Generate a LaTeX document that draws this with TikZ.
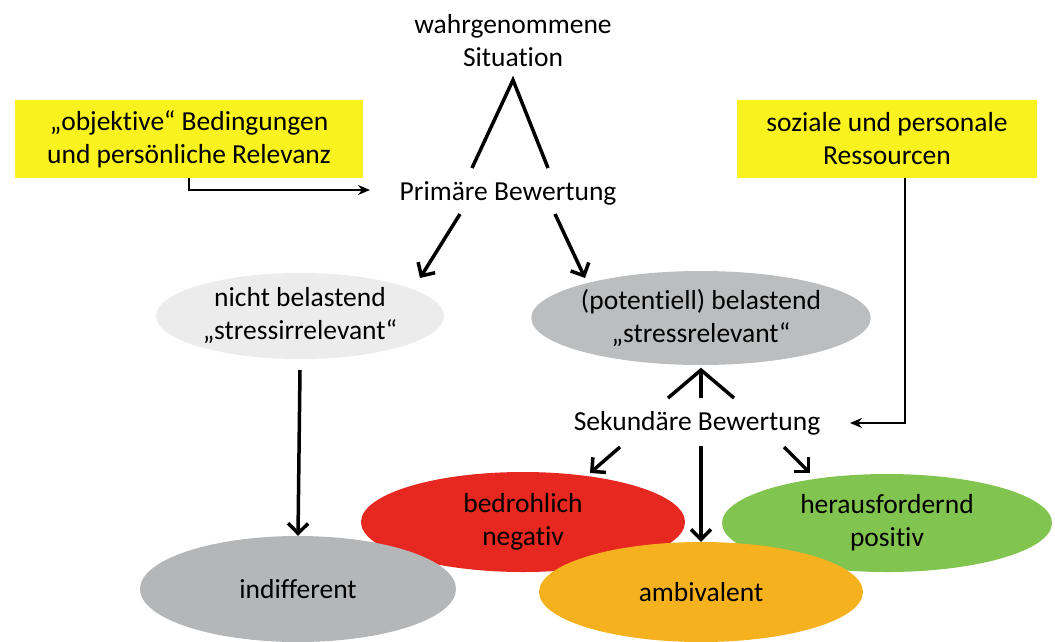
\documentclass[tikz,border=0pt]{standalone}
\usepackage{fontspec}
\setmainfont[Ligatures={NoCommon,NoRare},Contextuals={NoAlternate}]{Carlito}
\usetikzlibrary{shapes.geometric,arrows.meta}
\definecolor{boxyellow}{RGB}{250,242,30}
\definecolor{lightgray1}{RGB}{236,236,236}
\definecolor{midgray}{RGB}{188,189,190}
\definecolor{indgray}{RGB}{180,182,184}
\definecolor{redfill}{RGB}{230,40,32}
\definecolor{greenfill}{RGB}{130,196,80}
\definecolor{orangefill}{RGB}{246,178,30}
\tikzset{
  lbl/.style={align=center, font=\fontsize{27.5}{33}\selectfont, inner sep=0pt},
  ybox/.style={lbl, fill=boxyellow, minimum width=348pt, minimum height=78pt},
  ybox2/.style={lbl, fill=boxyellow, minimum width=300pt, minimum height=78pt},
  ell/.style={lbl, ellipse, inner sep=0pt},
  thk/.style={line width=3.5pt},
  arr/.style={line width=3.5pt, -{Straight Barb[length=10pt,width=20pt,line width=3.5pt]}},
  thinarr/.style={line width=2.5pt, -{Stealth[length=12pt,width=10pt]}},
}
\begin{document}
\begin{tikzpicture}[x=1pt,y=-1pt]
\useasboundingbox (0,0) rectangle (1055,641);
% top label
\node[lbl] (sit) at (513,41) {wahrgenommene\\Situation};
\coordinate (apex1) at (513,80);
\coordinate (f1l) at (472,168);
\coordinate (f1r) at (548,168);
\draw[thk] (f1l) -- (apex1) -- (f1r);
% yellow boxes
\node[ybox] (obj) at (189,139) {„objektive“ Bedingungen\\und persönliche Relevanz};
\node[ybox2] (res) at (887,139) {soziale und personale\\Ressourcen};
% primary
\node[lbl] (prim) at (508,193) {Primäre Bewertung};
\coordinate (objend) at (370,190);
\draw[thinarr] (obj.south) |- (objend);
% ellipses level 2
\node[ell, fill=lightgray1, minimum width=288pt, minimum height=86pt] (nb) at (300,316) {nicht belastend\\„stressirrelevant“};
\node[ell, fill=midgray, minimum width=322pt, minimum height=94pt] (pb) at (701,318) {(potentiell) belastend\\„stressrelevant“};
\coordinate (p1s) at (460,214);
\coordinate (p2s) at (555,214);
\coordinate (p1e) at (420,278);
\coordinate (p2e) at (585,278);
\draw[arr] (p1s) -- (p1e);
\draw[arr] (p2s) -- (p2e);
% secondary
\node[lbl] (sek) at (697,423) {Sekundäre Bewertung};
\coordinate (apex2) at (701,370);
\coordinate (f2l) at (668,398);
\coordinate (f2r) at (734,398);
\coordinate (f2m) at (701,398);
\draw[thk] (f2l) -- (apex2) -- (f2r);
\draw[thk] (apex2) -- (f2m);
\coordinate (resstart) at (905,178);
\coordinate (resend) at (850,423);
\draw[thinarr] (resstart) |- (resend);
% bottom ellipses
\node[ell, fill=redfill, minimum width=324pt, minimum height=100pt] (bed) at (523,522) {bedrohlich\\negativ};
\node[ell, fill=greenfill, minimum width=330pt, minimum height=98pt] (her) at (887,523) {herausfordernd\\positiv};
\node[ell, fill=indgray, minimum width=316pt, minimum height=106pt] (ind) at (298,589) {indifferent};
\node[ell, fill=orangefill, minimum width=324pt, minimum height=100pt] (amb) at (701,592) {ambivalent};
% arrows from secondary
\coordinate (s1) at (620,447);
\coordinate (s1e) at (590,473);
\coordinate (s3) at (784,447);
\coordinate (s3e) at (810,473);
\draw[arr] (s1) -- (s1e);
\draw[arr] (s3) -- (s3e);
\coordinate (s2) at (701,446);
\draw[arr] (s2) -- (amb.north);
\coordinate (nbs) at (300,370);
\draw[arr] (nbs) -- (ind.north);
\end{tikzpicture}
\end{document}
